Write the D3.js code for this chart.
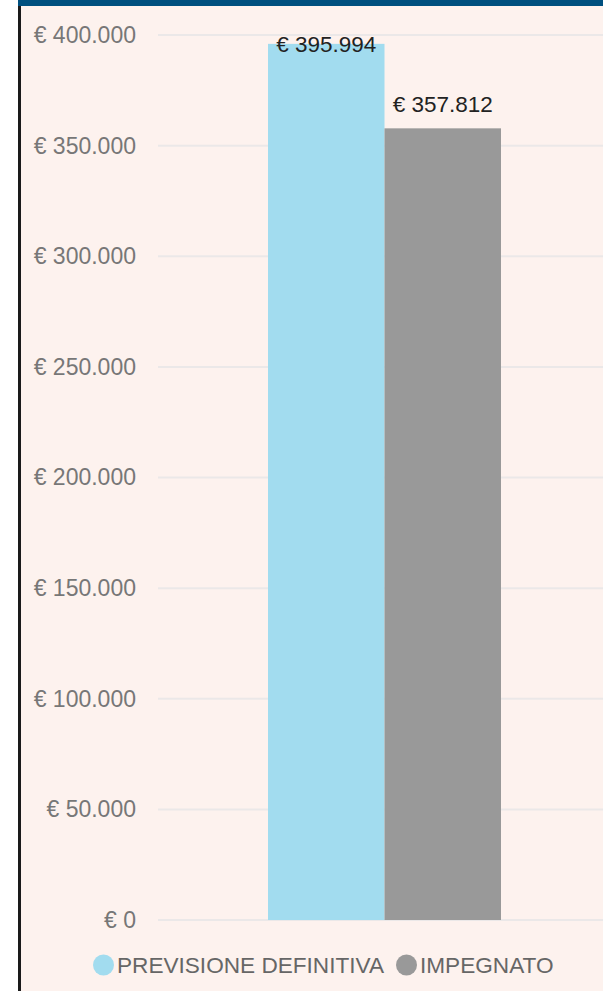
<!DOCTYPE html>
<html lang="it">
<head>
<meta charset="utf-8">
<title>Previsione vs Impegnato</title>
<script src="https://d3js.org/d3.v7.min.js"></script>
<style>
    html, body { margin: 0; padding: 0; background: #fff; }
    #chart { position: absolute; left: 0; top: 0; }
    text { font-family: "Liberation Sans", Arial, sans-serif; }
</style>
</head>
<body>
<div id="chart"></div>
<script>
const seriesNames = ["PREVISIONE DEFINITIVA", "IMPEGNATO"];
const seriesValues = [395994, 357812];
const seriesColors = ["#a2dcef", "#999999"];
const yTicks = [0, 50000, 100000, 150000, 200000, 250000, 300000, 350000, 400000];

const width = 603, height = 991;
const plotLeft = 158, plotRight = 603, plotTop = 35, plotBottom = 920;

const svg = d3.select("#chart").append("svg")
    .attr("width", width)
    .attr("height", height);

// panel background + frame
svg.append("rect").attr("x", 20).attr("y", 0).attr("width", width - 20).attr("height", height).attr("fill", "#fdf2ee");
svg.append("rect").attr("x", 18).attr("y", 0).attr("width", 3).attr("height", height).attr("fill", "#1a1a1a");
svg.append("rect").attr("x", 18).attr("y", 0).attr("width", width - 18).attr("height", 6).attr("fill", "#00507f");

const fmt = v => "€ " + d3.format(",")(v).replace(/,/g, ".");

const y = d3.scaleLinear().domain([0, 400000]).range([plotBottom, plotTop]);
const x = d3.scaleBand().domain(seriesNames).range([268, 501]).padding(0);

// gridlines
svg.append("g")
    .selectAll("line")
    .data(yTicks)
    .join("line")
    .attr("x1", plotLeft).attr("x2", plotRight)
    .attr("y1", d => y(d)).attr("y2", d => y(d))
    .attr("stroke", "#ebe8e8").attr("stroke-width", 2);

// y axis labels
const yAxis = svg.append("g")
    .attr("transform", `translate(136,0)`)
    .call(d3.axisLeft(y).tickValues(yTicks).tickSize(0).tickPadding(0).tickFormat(fmt));
yAxis.select(".domain").remove();
yAxis.selectAll("text")
    .attr("font-family", "Roboto, 'Liberation Sans', sans-serif")
    .attr("font-size", 23)
    .attr("fill", "#777777")
    .attr("dy", "0.32em");

// bars
svg.append("g")
    .selectAll("rect")
    .data(seriesNames)
    .join("rect")
    .attr("x", d => x(d))
    .attr("width", x.bandwidth())
    .attr("y", (d, i) => y(seriesValues[i]))
    .attr("height", (d, i) => y(0) - y(seriesValues[i]))
    .attr("fill", (d, i) => seriesColors[i]);

// value labels
svg.append("g")
    .selectAll("text")
    .data(seriesNames)
    .join("text")
    .attr("x", d => x(d) + x.bandwidth() / 2)
    .attr("y", (d, i) => Math.max(y(seriesValues[i]) - 16, 52))
    .attr("text-anchor", "middle")
    .attr("font-size", 22.5)
    .attr("fill", "#222222")
    .text((d, i) => fmt(seriesValues[i]));

// legend: items placed one after another
const legend = svg.append("g").attr("transform", "translate(0,965)");
let lx = 93;
seriesNames.forEach((name, i) => {
    legend.append("circle")
        .attr("cx", lx + 10.5).attr("cy", 0).attr("r", 10.5)
        .attr("fill", seriesColors[i]);
    const t = legend.append("text")
        .attr("x", lx + 24).attr("y", 0).attr("dy", "0.36em")
        .attr("font-size", 22.6)
        .attr("fill", "#666666")
        .text(name);
    lx += 24 + t.node().getComputedTextLength() + 12;
});
</script>
</body>
</html>
